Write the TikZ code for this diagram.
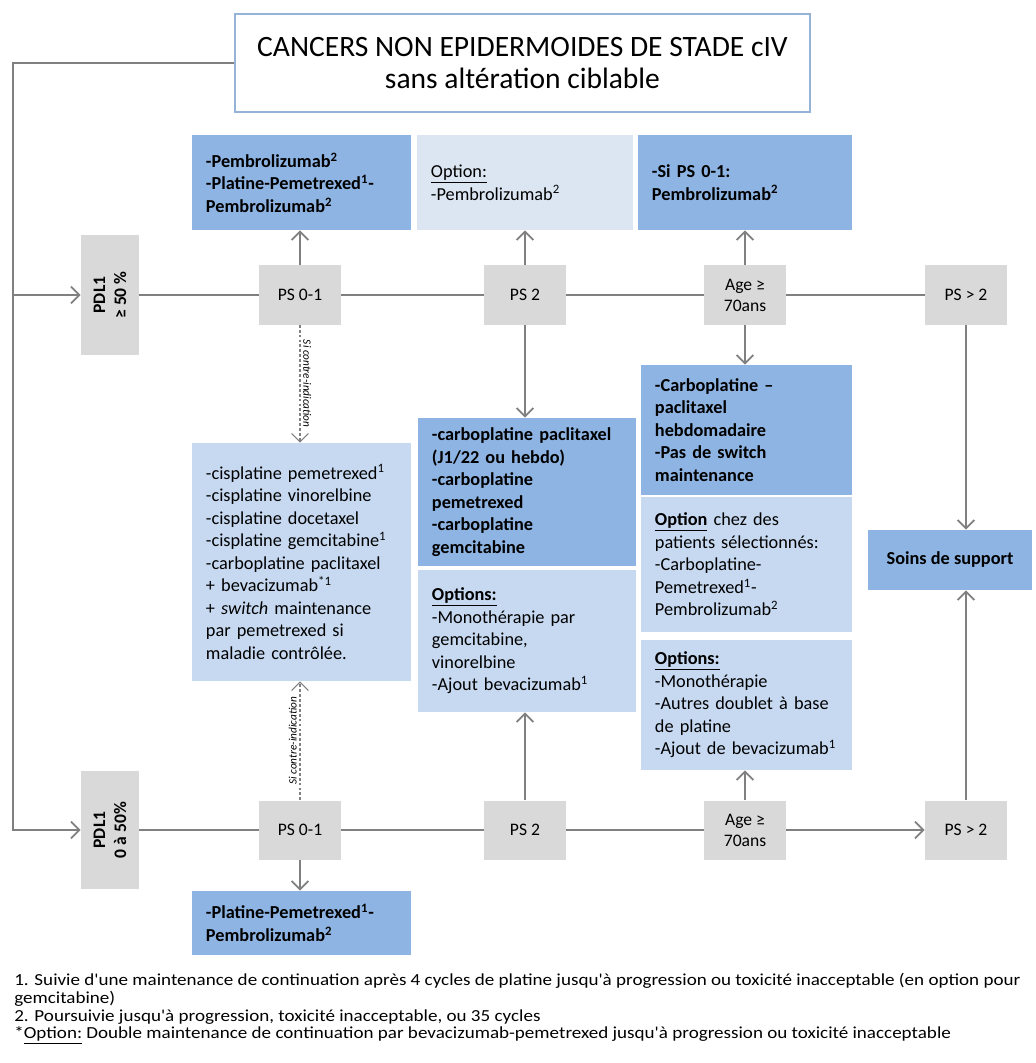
\documentclass[tikz,border=0pt]{standalone}
\usepackage{fontspec}
\setmainfont{Carlito}
\newfontfamily\notefont[FakeStretch=1.13]{Carlito}
\usetikzlibrary{arrows.meta}

\definecolor{boxdark}{HTML}{8EB4E3}
\definecolor{boxlight}{HTML}{C6D9F1}
\definecolor{boxpale}{HTML}{DCE6F2}
\definecolor{boxgrey}{HTML}{D9D9D9}
\definecolor{linegrey}{HTML}{808080}
\definecolor{titleblue}{HTML}{95B3D7}

\begin{document}
\begin{tikzpicture}[x=0.025cm, y=-0.025cm, >={Straight Barb[length=6pt,width=12pt]},
    line/.style={draw=linegrey, line width=1.3pt},
    dashline/.style={draw=linegrey, line width=0.8pt, dash pattern=on 2pt off 1.5pt},
    psbox/.style={fill=boxgrey, minimum width=2.05cm, minimum height=1.475cm, align=center, font=\fontsize{12.5}{15}\selectfont},
    pdlbox/.style={fill=boxgrey, rotate=90, minimum height=1.45cm, align=center, font=\fontsize{12.5}{15}\selectfont\bfseries},
    darkbox/.style={fill=boxdark, inner xsep=0.35cm, align=left, font=\fontsize{13}{16}\selectfont\bfseries},
    lightbox/.style={fill=boxlight, inner xsep=0.35cm, align=left, font=\fontsize{13}{16}\selectfont},
    cilabel/.style={anchor=south, font=\fontsize{8}{9}\selectfont\itshape, inner sep=2pt}]
    \useasboundingbox (0,0) rectangle (1036,1063);

    % Title
    \node[draw=titleblue, line width=1pt, fill=white, minimum width=14.375cm, minimum height=2.45cm, align=center,
          font=\fontsize{21}{23}\selectfont] (title) at (522.5,63)
          {CANCERS NON EPIDERMOIDES DE STADE cIV\\sans altération ciblable};

    % PDL1 entries
    \node[pdlbox, minimum width=3cm] (pdlA) at (110,295) {PDL1\\≥ 50 \%};
    \node[pdlbox, minimum width=2.95cm] (pdlB) at (110,830) {PDL1\\0 à 50\%};

    % PS row - PDL1 >= 50%
    \node[psbox] (psA1) at (300,295) {PS 0-1};
    \node[psbox] (psA2) at (525,295) {PS 2};
    \node[psbox] (ageA) at (745,295) {Age ≥\\70ans};
    \node[psbox] (psAD) at (966,295) {PS > 2};

    % PS row - PDL1 0 a 50%
    \node[psbox] (psB1) at (300,830) {PS 0-1};
    \node[psbox] (psB2) at (525,830) {PS 2};
    \node[psbox] (ageB) at (745,830) {Age ≥\\70ans};
    \node[psbox] (psBD) at (966,830) {PS > 2};

    % Treatments - top
    \node[darkbox, text width=4.775cm, minimum height=2.375cm] (pembroA) at (301.5,182.5)
          {-Pembrolizumab\textsuperscript{2}\\-Platine-Pemetrexed\textsuperscript{1}-\\Pembrolizumab\textsuperscript{2}};
    \node[lightbox, fill=boxpale, text width=4.7cm, minimum height=2.375cm] (optA) at (525,182.5)
          {\underline{Option:}\\-Pembrolizumab\textsuperscript{2}};
    \node[darkbox, text width=4.65cm, minimum height=2.375cm] (siA) at (745,182.5)
          {-Si PS 0-1:\\Pembrolizumab\textsuperscript{2}};

    % Treatments - middle
    \node[lightbox, text width=4.775cm, minimum height=5.95cm] (cis) at (301.5,562)
          {-cisplatine pemetrexed\textsuperscript{1}\\-cisplatine vinorelbine\\-cisplatine docetaxel\\
           -cisplatine gemcitabine\textsuperscript{1}\\-carboplatine paclitaxel\\+ bevacizumab\textsuperscript{*1}\\
           + \textit{switch} maintenance\\par pemetrexed si\\maladie contrôlée.};
    \node[darkbox, text width=4.75cm, minimum height=3.7cm] (carbo) at (527,492)
          {-carboplatine paclitaxel\\(J1/22 ou hebdo)\\-carboplatine\\pemetrexed\\-carboplatine\\gemcitabine};
    \node[lightbox, text width=4.75cm, minimum height=3.55cm] (optB) at (527,641)
          {\underline{\textbf{Options:}}\\-Monothérapie par\\gemcitabine,\\vinorelbine\\-Ajout bevacizumab\textsuperscript{1}};
    \node[darkbox, text width=4.575cm, minimum height=3.25cm] (carboAge) at (746.5,430)
          {-Carboplatine --\\paclitaxel\\hebdomadaire\\-Pas de switch\\maintenance};
    \node[lightbox, text width=4.575cm, minimum height=3.375cm] (optAge) at (746.5,564.5)
          {\underline{\textbf{Option}} chez des\\patients sélectionnés:\\-Carboplatine-\\Pemetrexed\textsuperscript{1}-\\Pembrolizumab\textsuperscript{2}};
    \node[lightbox, text width=4.575cm, minimum height=3.25cm] (optsAge) at (746.5,705)
          {\underline{\textbf{Options:}}\\-Monothérapie\\-Autres doublet à base\\de platine\\-Ajout de bevacizumab\textsuperscript{1}};
    \node[darkbox, minimum width=4.1cm, minimum height=1.5cm, align=center] (soins) at (950,560) {Soins de support};

    % Treatments - bottom
    \node[darkbox, text width=4.775cm, minimum height=1.6cm] (platB) at (301.5,923)
          {-Platine-Pemetrexed\textsuperscript{1}-\\Pembrolizumab\textsuperscript{2}};

    % Entry lines
    \coordinate (split) at (13,63);
    \draw[line, ->] (title.west) -- (split) |- (pdlA.north);
    \draw[line, ->] (split) |- (pdlB.north);

    % Row connections
    \draw[line] (pdlA) -- (psA1) -- (psA2) -- (ageA) -- (psAD);
    \draw[line] (pdlB) -- (psB1) -- (psB2) -- (ageB);
    \draw[line, ->] (ageB) -- (psBD);

    % Connections to treatments
    \draw[line, ->] (psA1.north) -- (psA1.north |- pembroA.south);
    \draw[line, ->] (psA2.north) -- (psA2.north |- optA.south);
    \draw[line, ->] (ageA.north) -- (ageA.north |- siA.south);
    \draw[line, ->] (psA2.south) -- (psA2.south |- carbo.north);
    \draw[line, ->] (ageA.south) -- (ageA.south |- carboAge.north);
    \draw[line, ->] (psAD.south) -- (psAD.south |- soins.north);
    \draw[dashline, ->] (psA1.south) -- (psA1.south |- cis.north)
          node[cilabel, midway, rotate=-90] {Si contre-indication};

    \draw[dashline, ->] (psB1.north) -- (psB1.north |- cis.south)
          node[cilabel, midway, rotate=90] {Si contre-indication};
    \draw[line, ->] (psB1.south) -- (psB1.south |- platB.north);
    \draw[line, ->] (psB2.north) -- (psB2.north |- optB.south);
    \draw[line, ->] (ageB.north) -- (ageB.north |- optsAge.south);
    \draw[line, ->] (psBD.north) -- (psBD.north |- soins.south);

    % Footnotes
    \node[anchor=north west, align=left, inner sep=0pt, font=\notefont\fontsize{12}{12.6}\selectfont] (notes) at (14,973)
          {1. Suivie d'une maintenance de continuation après 4 cycles de platine jusqu'à progression ou toxicité inacceptable (en option pour\\
           gemcitabine)\\
           2. Poursuivie jusqu'à progression, toxicité inacceptable, ou 35 cycles\\
           *\underline{Option:} Double maintenance de continuation par bevacizumab-pemetrexed jusqu'à progression ou toxicité inacceptable};
\end{tikzpicture}
\end{document}
